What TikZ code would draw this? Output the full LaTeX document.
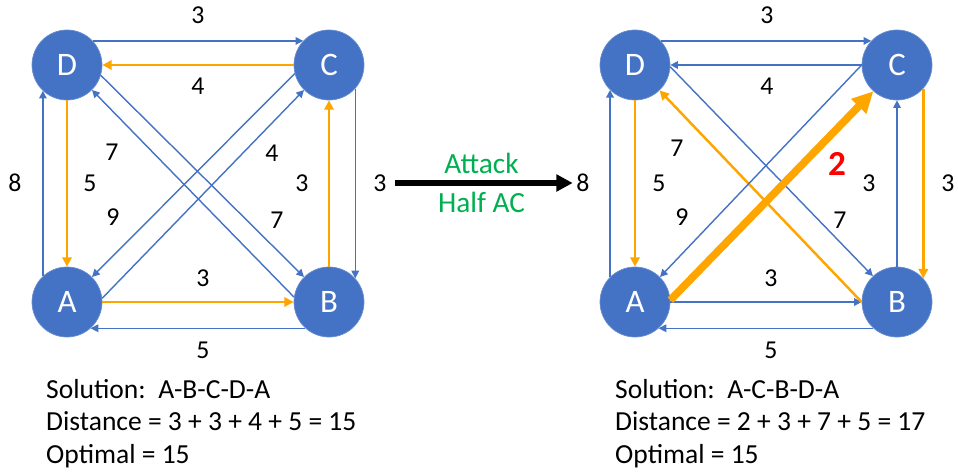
\documentclass[tikz,border=0pt]{standalone}
\usepackage{fontspec}
\setmainfont{Carlito}
\usetikzlibrary{arrows.meta}
\definecolor{tspblue}{RGB}{68,114,196}
\definecolor{tsporange}{RGB}{255,165,0}
\definecolor{tspgreen}{RGB}{0,176,80}
\definecolor{tspred}{RGB}{255,0,0}
\tikzset{
    city/.style={circle, fill=tspblue, draw=tspblue!80!white, line width=0.6pt, minimum size=2.1cm, inner sep=0pt, text=white, font=\fontsize{28}{30}\selectfont},
    blueedge/.style={-{Triangle[length=6.5pt, width=6.5pt]}, line width=1.2pt, color=tspblue},
    touredge/.style={-{Triangle[length=8pt, width=8pt]}, line width=2.1pt, color=tsporange},
    attackedge/.style={-{Triangle[length=18pt, width=17pt]}, line width=6.5pt, color=tsporange},
    weight/.style={font=\fontsize{22}{24}\selectfont, inner sep=1pt},
    summary/.style={anchor=base west, font=\fontsize{23.5}{26}\selectfont, inner sep=0pt}
}
\begin{document}
\begin{tikzpicture}[x=0.03cm, y=-0.03cm,
        bigarrow/.style={-{Triangle[length=14pt, width=14pt]}, line width=4.3pt, color=black, shorten <=6pt, shorten >=2pt},
        attacklbl/.style={font=\fontsize{25}{27}\selectfont, text=tspgreen, inner sep=0pt}
    ]
        \useasboundingbox (0,0) rectangle (958,472);

        % Left graph: before the attack
        \node[city] (lD) at (67,65) {D};
        \node[city] (lC) at (329,65) {C};
        \node[city] (lA) at (67,302) {A};
        \node[city] (lB) at (329,302) {B};

        \draw[blueedge] (lD.43) -- (lC.137);
        \draw[touredge] (lC.180) -- (lD.0);
        \draw[touredge] (lA.0) -- (lB.180);
        \draw[blueedge] (lB.-132) -- (lA.-48);
        \draw[blueedge] (lA.133) -- (lD.-133);
        \draw[touredge] (lD.-90) -- (lA.90);
        \draw[touredge] (lB.90) -- (lC.-90);
        \draw[blueedge] (lC.-42) -- (lB.42);
        \draw[blueedge] (lD.-17) -- (lB.135);
        \draw[blueedge] (lB.172) -- (lD.-45);
        \draw[blueedge] (lC.-166) -- (lA.45);
        \draw[blueedge] (lA.6) -- (lC.-135);

        \node[weight] (lwDC) at (198,15) {3};
        \node[weight] (lwCD) at (198,86) {4};
        \node[weight] (lwAB) at (203,278) {3};
        \node[weight] (lwBA) at (203,350) {5};
        \node[weight] (lwAD) at (15,183) {8};
        \node[weight] (lwDA) at (90,183) {5};
        \node[weight] (lwBC) at (302,183) {3};
        \node[weight] (lwCB) at (380,183) {3};
        \node[weight] (lwDB) at (112,152) {7};
        \node[weight] (lwAC) at (113,217) {9};
        \node[weight] (lwCA) at (272,153) {4};
        \node[weight] (lwBD) at (277,220) {7};

        % Right graph: after halving AC
        \node[city] (rD) at (635,65) {D};
        \node[city] (rC) at (897,65) {C};
        \node[city] (rA) at (635,302) {A};
        \node[city] (rB) at (897,302) {B};

        \draw[blueedge] (rD.43) -- (rC.137);
        \draw[blueedge] (rC.180) -- (rD.0);
        \draw[blueedge] (rA.0) -- (rB.180);
        \draw[blueedge] (rB.-132) -- (rA.-48);
        \draw[blueedge] (rA.135) -- (rD.-135);
        \draw[touredge] (rD.-90) -- (rA.90);
        \draw[blueedge] (rB.90) -- (rC.-90);
        \draw[touredge] (rC.-42) -- (rB.42);
        \draw[blueedge] (rD.-3) -- (rB.133);
        \draw[touredge] (rB.180) -- (rD.-46);
        \draw[blueedge] (rC.180) -- (rA.45);
        \draw[attackedge] (rA.3) -- (rC.-132);

        \node[weight] (rwDC) at (767,15) {3};
        \node[weight] (rwCD) at (767,86) {4};
        \node[weight] (rwAB) at (771,278) {3};
        \node[weight] (rwBA) at (771,350) {5};
        \node[weight] (rwAD) at (583,183) {8};
        \node[weight] (rwDA) at (659,183) {5};
        \node[weight] (rwBC) at (869,183) {3};
        \node[weight] (rwCB) at (948,183) {3};
        \node[weight] (rwDB) at (677,148) {7};
        \node[weight] (rwAC) at (682,217) {9};
        \node[weight] (rwBD) at (840,220) {7};
        \node[font=\fontsize{30}{32}\selectfont\bfseries, text=tspred, inner sep=0pt] (rwCA) at (837,164) {2};

        % Attack arrow between the graphs
        \draw[bigarrow] (lwCB.east) -- (rwAD.west)
            node[attacklbl, midway, above=6pt] (attack) {Attack}
            node[attacklbl, midway, below=6pt] (halfac) {Half AC};

        % Tour summaries
        \node[summary] (lsol) at (46,398) {Solution:\ \ A-B-C-D-A};
        \node[summary] (ldist) at (46,430) {Distance = 3 + 3 + 4 + 5 = 15};
        \node[summary] (lopt) at (46,463) {Optimal = 15};
        \node[summary] (rsol) at (615,398) {Solution:\ \ A-C-B-D-A};
        \node[summary] (rdist) at (615,430) {Distance = 2 + 3 + 7 + 5 = 17};
        \node[summary] (ropt) at (615,463) {Optimal = 15};

    \end{tikzpicture}
\end{document}
